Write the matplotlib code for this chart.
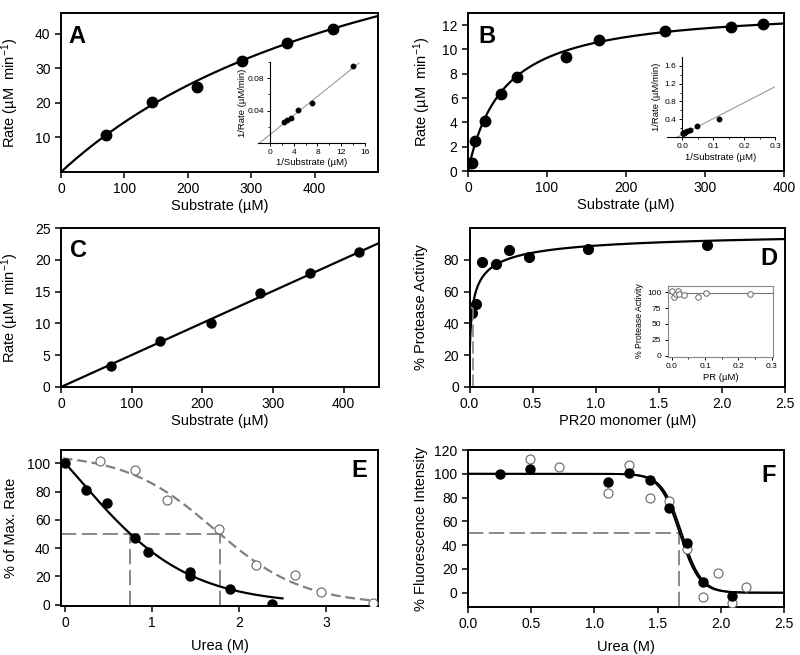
import matplotlib
matplotlib.use('Agg')
import matplotlib.pyplot as plt
import numpy as np

plt.rcParams.update({
    'font.family': ['Liberation Sans', 'DejaVu Sans'],
    'mathtext.fontset': 'custom',
    'mathtext.rm': 'Liberation Sans',
    'mathtext.it': 'Liberation Sans:italic',
    'mathtext.bf': 'Liberation Sans:bold',
    'axes.linewidth': 1.4,
    'xtick.direction': 'out', 'ytick.direction': 'out',
    'xtick.major.size': 4, 'ytick.major.size': 4,
    'xtick.major.width': 1.1, 'ytick.major.width': 1.1,
    'xtick.minor.size': 2.5, 'ytick.minor.size': 2.5,
    'xtick.labelsize': 10, 'ytick.labelsize': 10,
    'axes.labelsize': 10.5,
    'lines.scale_dashes': False,
})

# ---------------- data ----------------
# Panel A
a_sub = [71, 143, 214, 286, 357, 429]
a_rate = [10.7, 20.2, 24.5, 32.0, 37.3, 41.5]
a_vmax, a_km = 96.7, 571.0
a_inv_sub = [14.0, 7.0, 4.7, 3.5, 2.8, 2.33]
a_inv_rate = [0.0955, 0.050, 0.041, 0.031, 0.028, 0.026]
a_lb_int, a_lb_slope = 0.0103, 0.0059

# Panel B
b_sub = [3, 5.5, 8.4, 21.5, 41.7, 62.3, 123.8, 166.3, 249.7, 332.6, 373.9]
b_rate = [0.69, 0.69, 2.44, 4.15, 6.35, 7.72, 9.42, 10.74, 11.48, 11.87, 12.12]
b_vmax, b_km = 13.5, 45.0
b_inv_sub = [0.0027, 0.003, 0.004, 0.006, 0.008, 0.016, 0.024, 0.048, 0.12]
b_inv_rate = [0.083, 0.084, 0.087, 0.093, 0.106, 0.13, 0.157, 0.24, 0.41]
b_lb_int, b_lb_slope = 0.056, 3.58

# Panel C
c_sub = [70.8, 140.7, 211.6, 281.5, 352.3, 421.7]
c_rate = [3.26, 7.26, 10.0, 14.84, 17.9, 21.26]
c_slope = 0.0503

# Panel D
d_pr = [0.02, 0.05, 0.10, 0.21, 0.31, 0.47, 0.94, 1.88]
d_act = [46.8, 52.0, 78.5, 77.5, 85.9, 81.7, 86.8, 89.1]
d_ymax, d_k, d_n = 100.0, 0.0243, 0.56
d_pr_in = [0.001, 0.007, 0.012, 0.019, 0.022, 0.037, 0.080, 0.102, 0.236]
d_act_in = [101, 93, 97.5, 101.5, 97.5, 96, 92, 99, 97.3]
d_line_in = 99.0

# Panel E
e_urea_f = [0, 0.24, 0.48, 0.80, 0.95, 1.43, 1.43, 1.90, 2.38]
e_rate_f = [100, 81.4, 71.7, 47.0, 37.3, 22.9, 20.0, 11.2, 0.3]
e_urea_o = [0.40, 0.80, 1.17, 1.77, 2.20, 2.65, 2.94, 3.54]
e_rate_o = [102, 95.5, 73.8, 53.3, 28.0, 21.0, 8.9, 0.9]
e_fit_f = (181.5, 0.131, 0.64)
e_fit_o = (107.0, 1.713, 0.5115)
e_mid = [0.75, 1.78]

# Panel F
f_urea_f = [0.25, 0.487, 1.11, 1.276, 1.44, 1.59, 1.73, 1.86, 2.09]
f_int_f = [100, 103.9, 92.8, 100.8, 94.4, 71.3, 42.1, 8.6, -2.5]
f_urea_o = [0.487, 0.72, 1.11, 1.276, 1.44, 1.59, 1.73, 1.86, 1.98, 2.09, 2.20]
f_int_o = [112.3, 105.6, 83.6, 107.2, 80.0, 77.4, 36.5, -3.3, 16.2, -8.9, 5.0]
f_fit1 = (1.675, 0.078)
f_fit2 = (1.69, 0.078)
f_mid = 1.67

# ---------------- layout ----------------
W, H = 800, 655
fig = plt.figure(figsize=(8, 6.55), dpi=100)


def box(l, t, r, b):
    return [l / W, 1 - b / H, (r - l) / W, (b - t) / H]


GRAY = '#808080'
LGRAY = '#9a9a9a'
MS = 7.5


def letter(ax, txt, x, y):
    ax.text(x, y, txt, transform=ax.transAxes, fontsize=17, fontweight='bold',
            ha='center', va='center')


def style_inset(ax):
    ax.tick_params(labelsize=6, length=2.5, width=0.7, pad=2)
    ax.tick_params(which='minor', length=1.5, width=0.6)
    for s in ax.spines.values():
        s.set_linewidth(0.8)


# ----- A -----
axA = fig.add_axes(box(61, 13, 378, 172))
xs = np.linspace(0, 500, 300)
axA.plot(xs, a_vmax * xs / (a_km + xs), color='k', lw=1.6)
axA.plot(a_sub, a_rate, 'o', color='k', ms=MS)
axA.set_xlim(0, 500)
axA.set_ylim(0, 46)
axA.set_xticks([0, 100, 200, 300, 400])
axA.set_yticks([10, 20, 30, 40])
axA.set_xlabel('Substrate (µM)', labelpad=2)
axA.set_ylabel('Rate (µM  min$^{\\mathregular{-1}}$)')
axA.yaxis.set_label_coords(-0.126, 0.5)
letter(axA, 'A', 0.05, 0.85)

axAi = fig.add_axes(box(258, 62, 365, 143))
xl = np.linspace(-a_lb_int / a_lb_slope, 15, 50)
axAi.plot(xl, a_lb_int + a_lb_slope * xl, color=LGRAY, lw=0.8)
axAi.plot(a_inv_sub, a_inv_rate, 'o', color='k', ms=3.2)
axAi.set_xlim(-2, 16)
axAi.set_ylim(0, 0.1)
axAi.spines['left'].set_position(('data', 0))
axAi.spines['top'].set_visible(False)
axAi.spines['right'].set_visible(False)
axAi.set_xticks([0, 4, 8, 12, 16])
axAi.set_xticks([2, 6, 10, 14], minor=True)
axAi.set_yticks([0.04, 0.08])
axAi.set_yticks([0.02, 0.06, 0.1], minor=True)
axAi.patch.set_alpha(0)
style_inset(axAi)
axAi.set_xlabel('1/Substrate (µM)', fontsize=6.8, labelpad=1)
axAi.set_ylabel('1/Rate (µM/min)', fontsize=6.8)
axAi.yaxis.set_label_coords(-0.1, 0.5)

# ----- B -----
axB = fig.add_axes(box(468, 13, 784, 171))
xs = np.linspace(0, 400, 400)
axB.plot(xs, b_vmax * xs / (b_km + xs), color='k', lw=1.6)
axB.plot(b_sub, b_rate, 'o', color='k', ms=MS)
axB.set_xlim(0, 400)
axB.set_ylim(0, 13)
axB.set_xticks([0, 100, 200, 300, 400])
axB.set_yticks([0, 2, 4, 6, 8, 10, 12])
axB.set_xlabel('Substrate (µM)', labelpad=2)
axB.set_ylabel('Rate (µM  min$^{\\mathregular{-1}}$)')
axB.yaxis.set_label_coords(-0.11, 0.5)
letter(axB, 'B', 0.06, 0.85)

axBi = fig.add_axes(box(667, 57, 775, 137))
xl = np.linspace(-b_lb_int / b_lb_slope, 0.3, 50)
axBi.plot(xl, b_lb_int + b_lb_slope * xl, color=LGRAY, lw=0.8)
axBi.plot(b_inv_sub, b_inv_rate, 'o', color='k', ms=3.2)
axBi.set_xlim(-0.05, 0.3)
axBi.set_ylim(0, 1.8)
axBi.spines['left'].set_position(('data', 0))
axBi.spines['top'].set_visible(False)
axBi.spines['right'].set_visible(False)
axBi.set_xticks([0.0, 0.1, 0.2, 0.3])
axBi.set_xticks([0.05, 0.15, 0.25], minor=True)
axBi.set_xticklabels(['0.0', '0.1', '0.2', '0.3'])
axBi.set_yticks([0.4, 0.8, 1.2, 1.6])
axBi.set_yticks([0.2, 0.6, 1.0, 1.4], minor=True)
axBi.patch.set_alpha(0)
style_inset(axBi)
axBi.set_xlabel('1/Substrate (µM)', fontsize=6.8, labelpad=2)
axBi.set_ylabel('1/Rate (µM/min)', fontsize=6.8)
axBi.yaxis.set_label_coords(-0.06, 0.5)

# ----- C -----
axC = fig.add_axes(box(61, 228, 379, 387))
xs = np.linspace(0, 450, 10)
axC.plot(xs, c_slope * xs, color='k', lw=1.6)
axC.plot(c_sub, c_rate, 'o', color='k', ms=6.5)
axC.set_xlim(0, 450)
axC.set_ylim(0, 25)
axC.set_xticks([0, 100, 200, 300, 400])
axC.set_yticks([0, 5, 10, 15, 20, 25])
axC.set_xlabel('Substrate (µM)', labelpad=2)
axC.set_ylabel('Rate (µM  min$^{\\mathregular{-1}}$)')
axC.yaxis.set_label_coords(-0.126, 0.5)
letter(axC, 'C', 0.055, 0.86)

# ----- D -----
axD = fig.add_axes(box(469.5, 228, 785, 387))
xs = np.linspace(0.004, 2.5, 800)
axD.plot(xs, d_ymax * (xs / d_k) ** d_n / (1 + (xs / d_k) ** d_n), color='k', lw=1.6)
axD.plot(d_pr, d_act, 'o', color='k', ms=7)
axD.plot([d_k, d_k], [0, 50], color=GRAY, lw=1.2, ls=(0, (9, 3)))
axD.plot([0, d_k], [50, 50], color=GRAY, lw=1.2, ls=(0, (9, 3)))
axD.set_xlim(0, 2.5)
axD.set_ylim(0, 100)
axD.set_xticks([0, 0.5, 1.0, 1.5, 2.0, 2.5])
axD.set_xticklabels(['0.0', '0.5', '1.0', '1.5', '2.0', '2.5'])
axD.set_yticks([0, 20, 40, 60, 80])
axD.set_xlabel('PR20 monomer (µM)', labelpad=2)
axD.set_ylabel('% Protease Activity')
axD.yaxis.set_label_coords(-0.13, 0.5)
letter(axD, 'D', 0.95, 0.81)

axDi = fig.add_axes(box(667.5, 285.7, 773.3, 356.5))
axDi.axhline(d_line_in, color='#777777', lw=0.8)
axDi.plot(d_pr_in, d_act_in, 'o', mfc='white', mec='#666666', mew=0.7, ms=4)
axDi.set_xlim(-0.013, 0.305)
axDi.set_ylim(-1, 110)
axDi.set_xticks([0.0, 0.1, 0.2, 0.3])
axDi.set_xticklabels(['0.0', '0.1', '0.2', '0.3'])
axDi.set_xticks([0.05, 0.15, 0.25], minor=True)
axDi.set_yticks([0, 25, 50, 75, 100])
style_inset(axDi)
for s in axDi.spines.values():
    s.set_color('#888888')
axDi.set_xlabel('PR (µM)', fontsize=6.8, labelpad=2)
axDi.set_ylabel('% Protease Activity', fontsize=6.3, labelpad=2)

# ----- E -----
axE = fig.add_axes(box(61, 450, 378, 606))
xs = np.linspace(0, 2.5, 300)
T, x0, s = e_fit_f
axE.plot(xs, T / (1 + np.exp((xs - x0) / s)), color='k', lw=1.6, zorder=3)
xs2 = np.linspace(-0.03, 3.56, 300)
T, x0, s = e_fit_o
axE.plot(xs2, T / (1 + np.exp((xs2 - x0) / s)), color=GRAY, lw=1.6, ls=(0, (7, 3.5)), zorder=2)
axE.plot([-0.05, e_mid[1]], [50, 50], color=GRAY, lw=1.3, ls=(0, (11, 4)))
for m in e_mid:
    axE.plot([m, m], [-1, 50], color=GRAY, lw=1.3, ls=(0, (11, 4)))
axE.plot(e_urea_o, e_rate_o, 'o', mfc='white', mec='#666666', mew=0.8, ms=6.5, zorder=4)
axE.plot(e_urea_f, e_rate_f, 'o', color='k', ms=6.5, zorder=5)
axE.set_xlim(-0.05, 3.6)
axE.set_ylim(-1, 109.5)
axE.set_xticks([0, 1, 2, 3])
axE.set_yticks([0, 20, 40, 60, 80, 100])
axE.set_xlabel('Urea (M)', labelpad=6)
axE.set_ylabel('% of Max. Rate')
axE.yaxis.set_label_coords(-0.135, 0.5)
letter(axE, 'E', 0.94, 0.87)

# ----- F -----
axF = fig.add_axes(box(468, 450, 784, 607))
xs = np.linspace(0, 2.5, 600)
for x0, s in (f_fit1, f_fit2):
    axF.plot(xs, 100 / (1 + np.exp((xs - x0) / s)), color='k', lw=1.4, zorder=3)
axF.plot([0, f_mid], [50, 50], color=GRAY, lw=1.3, ls=(0, (11, 4)))
axF.plot([f_mid, f_mid], [-12, 50], color=GRAY, lw=1.3, ls=(0, (11, 4)))
axF.plot(f_urea_o, f_int_o, 'o', mfc='white', mec='#666666', mew=0.8, ms=6.5, zorder=4)
axF.plot(f_urea_f, f_int_f, 'o', color='k', ms=6.5, zorder=5)
axF.set_xlim(0, 2.5)
axF.set_ylim(-12, 120)
axF.set_xticks([0, 0.5, 1.0, 1.5, 2.0, 2.5])
axF.set_xticklabels(['0.0', '0.5', '1.0', '1.5', '2.0', '2.5'])
axF.set_yticks([0, 20, 40, 60, 80, 100, 120])
axF.set_xlabel('Urea (M)', labelpad=6)
axF.set_ylabel('% Fluorescence Intensity')
axF.yaxis.set_label_coords(-0.126, 0.5)
letter(axF, 'F', 0.95, 0.84)

fig.savefig('out.png', dpi=100)
